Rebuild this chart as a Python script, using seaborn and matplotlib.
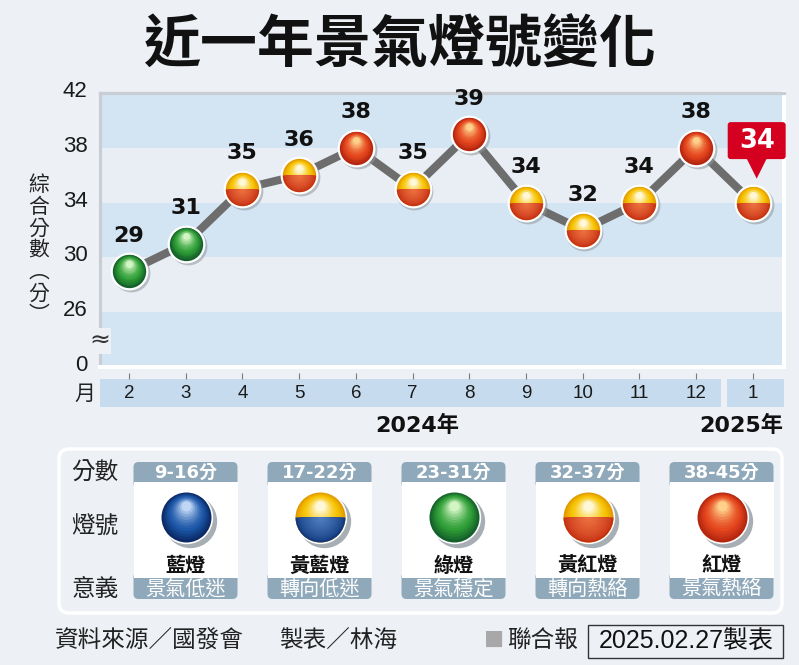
import numpy as np
import pandas as pd
import matplotlib
matplotlib.use("Agg")
import matplotlib.pyplot as plt
import seaborn as sns
from matplotlib.colors import to_rgb
from matplotlib.patches import FancyBboxPatch, Rectangle, Polygon
from matplotlib.transforms import ScaledTranslation

# --- data ---
months = ["2", "3", "4", "5", "6", "7", "8", "9", "10", "11", "12", "1"]
scores = [29, 31, 35, 36, 38, 35, 39, 34, 32, 34, 38, 34]
lights = ["綠燈", "綠燈", "黃紅燈", "黃紅燈", "紅燈", "黃紅燈", "紅燈",
          "黃紅燈", "黃紅燈", "黃紅燈", "紅燈", "黃紅燈"]
y_ticks = [22, 26, 30, 34, 38, 42]
y_tick_labels = ["0", "26", "30", "34", "38", "42"]
years = ["2024年", "2025年"]

legend_ranges = ["9-16分", "17-22分", "23-31分", "32-37分", "38-45分"]
legend_names = ["藍燈", "黃藍燈", "綠燈", "黃紅燈", "紅燈"]
legend_meanings = ["景氣低迷", "轉向低迷", "景氣穩定", "轉向熱絡", "景氣熱絡"]

title = "近一年景氣燈號變化"
source = "資料來源／國發會"
maker = "製表／林海"
paper = "聯合報"
stamp = "2025.02.27製表"

# --- style ---
BG = "#EDF1F6"
LIGHT_BAND = "#E8EEF4"
BLUE_BAND = "#D3E4F2"
MONTH_BAND = "#C6DCEE"
TAG = "#8FA9BA"
LINE = "#6D6D6D"
HILITE = "#D5001F"

# base, dark rim, highlight
SHADES = {
    "blue": ("#1B56A8", "#0B2A66", "#BFD6F5"),
    "yellow": ("#F7C300", "#E29A00", "#FFF8D8"),
    "green": ("#2E9E36", "#14602A", "#D2F5C4"),
    "red": ("#E5461E", "#B5260F", "#FFD08A"),
}
LAMP = {
    "藍燈": ("blue", "blue"),
    "黃藍燈": ("yellow", "blue"),
    "綠燈": ("green", "green"),
    "黃紅燈": ("yellow", "red"),
    "紅燈": ("red", "red"),
}

NUM = ["Liberation Sans", "Noto Sans CJK TC"]
BOLDNUM = ["DejaVu Sans", "Noto Sans CJK TC"]
CJK = ["Noto Sans CJK TC", "DejaVu Sans"]
plt.rcParams["font.family"] = NUM

W, H = 799, 665


def fx(px):
    return px / W


def fy(py):
    return 1 - py / H


def mix(c1, c2, t):
    a = np.array(to_rgb(c1))
    b = np.array(to_rgb(c2))
    return tuple(a + (b - a) * t)


def shift(ax, dx, dy):
    return ax.transData + ScaledTranslation(dx / 72, dy / 72, ax.figure.dpi_scale_trans)


def draw_ball(ax, x, y, top, bottom, ms, edge, shadow, z=3):
    # shadow + white ring
    ax.plot([x], [y], "o", ms=ms + 2 * edge, mfc=shadow[2], mec="none", alpha=shadow[3],
            transform=shift(ax, shadow[0], shadow[1]), zorder=z)
    ax.plot([x], [y], "o", ms=ms + 2 * edge, mfc="white", mec="none", zorder=z + 0.1)
    base, dark, hl = SHADES[top]
    n = 12
    for k, t in enumerate(np.linspace(0, 1, n)):
        if t < 0.35:
            c = mix(dark, base, t / 0.35)
        else:
            c = mix(base, hl, ((t - 0.35) / 0.65) ** 1.4)
        ax.plot([x], [y], "o", ms=ms * (1 - 0.8 * t), mfc=c, mec="none",
                transform=shift(ax, 0, ms * 0.22 * t), zorder=z + 0.2 + k * 0.01)
    if bottom != top:
        base, dark, hl = SHADES[bottom]
        for k, t in enumerate(np.linspace(0, 1, n)):
            c = mix(mix(dark, base, 0.35), mix(base, hl, 0.3), t ** 0.7)
            ax.plot([x], [y], "o", ms=ms * (1 - 0.9 * t), mfc=c, mec="none",
                    fillstyle="bottom", zorder=z + 0.4 + k * 0.01)


fig = plt.figure(figsize=(W / 100, H / 100), dpi=100, facecolor=BG)

fig.text(0.5, fy(46), title, ha="center", va="center", fontsize=41,
         fontweight="black", family=CJK, color="#111111")

# --- main chart ---
ax = fig.add_axes([fx(100), fy(367), fx(784) - fx(100), fy(93) - fy(367)])
ax.set_facecolor(LIGHT_BAND)
for lo in y_ticks[::2]:
    ax.axhspan(lo, lo + 4, color=BLUE_BAND, lw=0, zorder=0)

df = pd.DataFrame({"idx": np.arange(len(months)), "score": scores, "light": lights})
sns.lineplot(data=df, x="idx", y="score", color=LINE, linewidth=5.8, ax=ax, zorder=2)

for row in df.itertuples():
    top, bot = LAMP[row.light]
    draw_ball(ax, row.idx, row.score, top, bot, ms=24, edge=1.6,
              shadow=(1.3, -1.5, "#8E979E", 0.55))
    if row.idx < len(df) - 1:
        ax.annotate(str(row.score), (row.idx, row.score), xytext=(0, 25.5),
                    textcoords="offset points", ha="center", va="center",
                    fontsize=16, fontweight="bold", family=BOLDNUM, color="#111111",
                    zorder=10)

# highlighted latest value
last = df.iloc[-1]
anchor = fig.dpi_scale_trans + ScaledTranslation(last["idx"], last["score"], ax.transData)
ax.add_patch(FancyBboxPatch((-0.25, 0.435), 0.58, 0.37,
                            boxstyle="round,pad=0,rounding_size=0.03",
                            transform=anchor, fc=HILITE, ec="none", clip_on=False, zorder=11))
ax.add_patch(Polygon([(-0.06, 0.44), (0.14, 0.44), (0.04, 0.24)], closed=True,
                     transform=anchor, fc=HILITE, ec="none", clip_on=False, zorder=11))
ax.text(0.04, 0.62, str(last["score"]), transform=anchor, ha="center", va="center",
        fontsize=18.5, fontweight="bold", family=BOLDNUM, color="white", zorder=12)

ax.set_xlim(-0.5115, 11.552)
ax.set_ylim(22, 42)
ax.set_xticks([])
ax.set_xlabel("")
ax.set_ylabel("")
ax.set_yticks(y_ticks, y_tick_labels)
ax.tick_params(axis="y", length=0, pad=9, labelsize=16, labelcolor="#1A1A1A")
for lab in ax.get_yticklabels():
    lab.set_transform(lab.get_transform() + ScaledTranslation(0, 0.04, fig.dpi_scale_trans))
for side in ["top", "left"]:
    ax.spines[side].set_color("#C9CED4")
    ax.spines[side].set_linewidth(2.3)
for side in ["right", "bottom"]:
    ax.spines[side].set_color("white")
    ax.spines[side].set_linewidth(2.9)

ax.text(0, 23.9, "≈", transform=ax.get_yaxis_transform(), ha="center", va="center",
        fontsize=18, color="#333333", family=["DejaVu Sans"], zorder=20, clip_on=False,
        bbox=dict(fc=BG, ec="none", pad=0.5))

fig.text(fx(39), fy(250), "綜\n合\n分\n數\n︵\n分\n︶", ha="center", va="center",
         fontsize=15, family=CJK, color="#222222", linespacing=0.98)

# --- month band ---
mx = fig.add_axes([fx(100), fy(407), fx(784) - fx(100), fy(379) - fy(407)])
mx.set_facecolor("none")
mx.axvspan(-0.5115, 10.44, color=MONTH_BAND, lw=0)
mx.axvspan(10.55, 11.552, color=MONTH_BAND, lw=0)
for i, m in enumerate(months):
    mx.text(i, 0.5, m, ha="center", va="center", fontsize=13.5, color="#1A1A1A")
mx.set_xlim(-0.5115, 11.552)
mx.set_ylim(0, 1)
mx.set_xticks(range(len(months)))
mx.set_yticks([])
mx.tick_params(axis="x", top=True, bottom=False, labelbottom=False, labeltop=False,
               direction="out", length=4.3, width=0.8, color="#7A7A7A")
for s in mx.spines.values():
    s.set_visible(False)

fig.text(fx(85), fy(394), "月", ha="center", va="center", fontsize=15, family=CJK, color="#222222")
fig.text(fx(417), fy(425), years[0], ha="center", va="center", fontsize=16,
         fontweight="bold", family=BOLDNUM, color="#111111")
fig.text(fx(783), fy(425), years[1], ha="right", va="center", fontsize=16,
         fontweight="bold", family=BOLDNUM, color="#111111")

# --- legend panel ---
lg = fig.add_axes([fx(57), fy(616), fx(784) - fx(57), fy(446) - fy(616)])
lg.set_xlim(57, 784)
lg.set_ylim(616, 446)
lg.axis("off")
lg.add_patch(FancyBboxPatch((59, 449), 723, 164, boxstyle="round,pad=0,rounding_size=10",
                            fc=BG, ec="white", lw=2.5, zorder=0))
for label, yy in zip(["分數", "燈號", "意義"], [473, 527, 589]):
    lg.text(95, yy, label, ha="center", va="center", fontsize=17, family=CJK, color="#222222")

col0, step = 185.5, 134
for i, (rng, name, mean) in enumerate(zip(legend_ranges, legend_names, legend_meanings)):
    cx = col0 + step * i
    lg.add_patch(FancyBboxPatch((cx - 52, 462), 104, 26, boxstyle="round,pad=0,rounding_size=5",
                                fc=TAG, ec="none", zorder=1))
    lg.add_patch(FancyBboxPatch((cx - 52, 572), 104, 27, boxstyle="round,pad=0,rounding_size=5",
                                fc=TAG, ec="none", zorder=1))
    lg.add_patch(Rectangle((cx - 52, 482), 104, 96, fc="white", ec="none", zorder=2))
    lg.text(cx, 472.5, rng, ha="center", va="center", fontsize=13, fontweight="bold",
            family=BOLDNUM, color="white", zorder=3)
    lg.text(cx, 589, mean, ha="center", va="center", fontsize=14.5, family=CJK,
            color="white", zorder=3)
    lg.text(cx, 565, name, ha="center", va="center", fontsize=14.5, fontweight="bold",
            family=CJK, color="#111111", zorder=3)
    top, bot = LAMP[name]
    draw_ball(lg, cx, 517, top, bot, ms=36, edge=1.2, shadow=(3.0, -3.0, "#A7AEB4", 1.0), z=4)

# --- footer ---
fig.text(fx(55), fy(641), source, ha="left", va="center", fontsize=17, family=CJK, color="#222222")
fig.text(fx(279), fy(641), maker, ha="left", va="center", fontsize=17, family=CJK, color="#222222")
fig.text(fx(484), fy(641), "■", ha="left", va="center", fontsize=14.5, family=CJK, color="#A8A8A8")
fig.text(fx(507), fy(641), paper, ha="left", va="center", fontsize=17, family=CJK, color="#222222")
fig.add_artist(Rectangle((fx(588), fy(658)), fx(783) - fx(588), fy(625) - fy(658),
                         transform=fig.transFigure, fill=False, ec="#333333", lw=1))
fig.text(fx(686), fy(641), stamp, ha="center", va="center", fontsize=18, family=NUM, color="#111111")

fig.savefig("out.png", dpi=100, facecolor=BG)
